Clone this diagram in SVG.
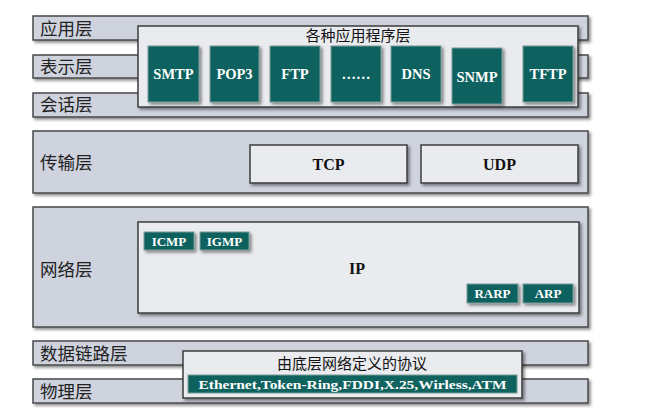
<svg xmlns="http://www.w3.org/2000/svg" width="651" height="414" viewBox="0 0 651 414">
<defs>
<filter id="sh" x="-10%" y="-10%" width="130%" height="150%">
<feDropShadow dx="2" dy="2" stdDeviation="1.5" flood-color="#000" flood-opacity="0.45"/>
</filter>
<style>
.layer{fill:#cfd3de;stroke:#4a4a4a;stroke-width:1.5}
.inner{fill:#eaebef;stroke:#3c3c3c;stroke-width:1.5}
.teal{fill:#10625e;stroke:#7a9a98;stroke-width:1}
.lbl{font-family:"Noto Sans CJK SC","Noto Sans",sans-serif;font-size:17.5px;fill:#222}
.ttl{font-family:"Noto Sans CJK SC",serif;font-size:15px;fill:#111}
.tw{font-family:'Liberation Serif','Times New Roman',serif;font-weight:bold;fill:#fff;text-anchor:middle}
.tb{font-family:'Liberation Serif','Times New Roman',serif;font-weight:bold;fill:#111;text-anchor:middle;font-size:16px}
</style>
</defs>
<rect width="651" height="414" fill="#fff"/>
<g id="app-layer"><rect class="layer" x="33" y="16" width="555" height="24" filter="url(#sh)"/><text class="lbl" x="40" y="35">应用层</text></g>
<g id="pres-layer"><rect class="layer" x="33" y="55" width="555" height="23" filter="url(#sh)"/><text class="lbl" x="40" y="73">表示层</text></g>
<g id="sess-layer"><rect class="layer" x="33" y="93" width="555" height="24" filter="url(#sh)"/><text class="lbl" x="40" y="111">会话层</text></g>
<g id="trans-layer"><rect class="layer" x="33" y="131" width="555" height="62" filter="url(#sh)"/><text class="lbl" x="40" y="169">传输层</text></g>
<g id="net-layer"><rect class="layer" x="33" y="207" width="555" height="120" filter="url(#sh)"/><text class="lbl" x="40" y="276">网络层</text></g>
<g id="link-layer"><rect class="layer" x="33" y="341" width="555" height="24" filter="url(#sh)"/><text class="lbl" x="40" y="360">数据链路层</text></g>
<g id="phys-layer"><rect class="layer" x="33" y="379" width="555" height="24" filter="url(#sh)"/><text class="lbl" x="40" y="398">物理层</text></g>

<g id="apps"><rect class="inner" x="138" y="26" width="440" height="81" filter="url(#sh)"/><text class="ttl" x="358" y="41" text-anchor="middle">各种应用程序层</text></g>
<g id="smtp"><rect class="teal" x="148" y="46" width="51" height="56" filter="url(#sh)"/><text class="tw" x="173.5" y="79" font-size="14.5">SMTP</text></g>
<g id="pop3"><rect class="teal" x="210" y="46" width="49" height="56" filter="url(#sh)"/><text class="tw" x="234.5" y="79" font-size="14.5">POP3</text></g>
<g id="ftp"><rect class="teal" x="270" y="46" width="50" height="56" filter="url(#sh)"/><text class="tw" x="295" y="79" font-size="14.5">FTP</text></g>
<g id="etc"><rect class="teal" x="331" y="46" width="50" height="56" filter="url(#sh)"/><text class="tw" x="356" y="79" font-size="14.5">……</text></g>
<g id="dns"><rect class="teal" x="391" y="46" width="50" height="56" filter="url(#sh)"/><text class="tw" x="416" y="79" font-size="14.5">DNS</text></g>
<g id="snmp"><rect class="teal" x="452" y="48" width="50" height="56" filter="url(#sh)"/><text class="tw" x="477" y="82" font-size="14.5">SNMP</text></g>
<g id="tftp"><rect class="teal" x="523" y="46" width="50" height="56" filter="url(#sh)"/><text class="tw" x="548" y="79" font-size="14.5">TFTP</text></g>

<g id="tcp"><rect class="inner" x="250" y="145" width="157" height="38" filter="url(#sh)"/><text class="tb" x="328.5" y="170">TCP</text></g>
<g id="udp"><rect class="inner" x="421" y="145" width="157" height="38" filter="url(#sh)"/><text class="tb" x="499.5" y="170">UDP</text></g>

<g id="ip"><rect class="inner" x="138" y="222" width="441" height="91" filter="url(#sh)"/><text class="tb" x="357" y="274">IP</text></g>
<g id="icmp"><rect class="teal" x="144" y="232" width="50" height="18" filter="url(#sh)"/><text class="tw" x="169" y="246" font-size="13">ICMP</text></g>
<g id="igmp"><rect class="teal" x="200" y="232" width="49" height="18" filter="url(#sh)"/><text class="tw" x="224.5" y="246" font-size="13">IGMP</text></g>
<g id="rarp"><rect class="teal" x="467" y="284" width="51" height="19" filter="url(#sh)"/><text class="tw" x="492.5" y="298" font-size="13">RARP</text></g>
<g id="arp"><rect class="teal" x="523" y="284" width="50" height="19" filter="url(#sh)"/><text class="tw" x="548" y="298" font-size="13">ARP</text></g>

<g id="lower"><rect class="inner" x="183" y="351" width="339" height="47" filter="url(#sh)"/><text class="ttl" x="352" y="369" text-anchor="middle" font-size="17.5">由底层网络定义的协议</text>
<rect class="teal" x="188" y="375" width="329" height="18"/><text class="tw" x="352.5" y="389" font-size="13" textLength="308" lengthAdjust="spacingAndGlyphs">Ethernet,Token-Ring,FDDI,X.25,Wirless,ATM</text></g>
<g id="connectors"></g>
</svg>
